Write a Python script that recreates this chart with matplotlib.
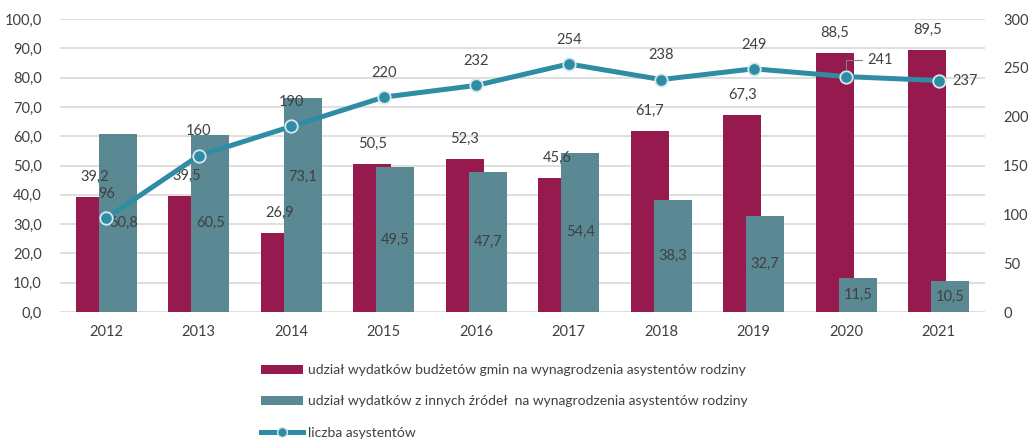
import matplotlib
matplotlib.use("Agg")
import matplotlib.pyplot as plt
from matplotlib.lines import Line2D
from matplotlib.patches import Patch
import numpy as np

years = ["2012", "2013", "2014", "2015", "2016", "2017", "2018", "2019", "2020", "2021"]
gmin_share = [39.2, 39.5, 26.9, 50.5, 52.3, 45.6, 61.7, 67.3, 88.5, 89.5]
other_share = [60.8, 60.5, 73.1, 49.5, 47.7, 54.4, 38.3, 32.7, 11.5, 10.5]
assistants = [96, 160, 190, 220, 232, 254, 238, 249, 241, 237]

legend_labels = [
    "udział wydatków budżetów gmin na wynagrodzenia asystentów rodziny",
    "udział wydatków z innych źródeł  na wynagrodzenia asystentów rodziny",
    "liczba asystentów",
]

MAROON = "#961A4D"
TEAL = "#5A8993"
LINE = "#2F8CA5"
TXT = "#404040"
GRID = "#D9D9D9"

plt.rcParams["font.family"] = ["Lato", "DejaVu Sans"]

fig = plt.figure(figsize=(10.28, 4.48), dpi=100)
ax = fig.add_axes([60 / 1028, 1 - 312 / 448, 925 / 1028, 293 / 448])
ax2 = ax.twinx()

x = np.arange(len(years))
w = 0.41
off = 0.124

ax.bar(x - off, gmin_share, w, color=MAROON, zorder=2)
ax.bar(x + off, other_share, w, color=TEAL, zorder=3)

ax.set_xlim(-0.5, len(years) - 0.5)
ax.set_ylim(0, 100)
ax.set_yticks(np.arange(0, 101, 10))
ax.set_yticklabels([f"{v:.1f}".replace(".", ",") for v in np.arange(0, 101, 10)])
ax.set_xticks(x)
ax.set_xticklabels(years)
ax.grid(axis="y", color=GRID, linewidth=1.2, zorder=0)
ax.set_axisbelow(True)
for s in ax.spines.values():
    s.set_visible(False)
for s in ax2.spines.values():
    s.set_visible(False)
ax.tick_params(axis="both", length=0, labelsize=10.5, labelcolor=TXT, pad=9)
ax.tick_params(axis="y", pad=13)

ax2.set_ylim(0, 300)
ax2.set_yticks(np.arange(0, 301, 50))
ax2.tick_params(axis="y", length=0, labelsize=10.5, labelcolor=TXT, pad=13)

ax2.plot(x, assistants, color=LINE, linewidth=3.6, marker="o", markersize=9,
         markerfacecolor=LINE, markeredgecolor="#D5E8EE", markeredgewidth=1.3,
         zorder=5, solid_capstyle="round")

fs = 10.5
for i in range(len(years)):
    ax.annotate(f"{gmin_share[i]:.1f}".replace(".", ","), (x[i] - off, gmin_share[i]),
                xytext=(0, 14.5), textcoords="offset points", ha="center", va="center",
                fontsize=fs, color=TXT, zorder=10)
    yv = other_share[i] / 2
    dx = 0
    if years[i] == "2014":
        yv = 46
    if years[i] == "2012":
        dx = 4
    ax.annotate(f"{other_share[i]:.1f}".replace(".", ","), (x[i] + off, yv),
                xytext=(dx, 0), textcoords="offset points",
                ha="center", va="center", fontsize=fs, color=TXT, zorder=10)

for i in range(len(years)):
    if years[i] == "2021":
        ax2.annotate(str(assistants[i]), (x[i], assistants[i]), xytext=(10, 0),
                     textcoords="offset points", ha="left", va="center",
                     fontsize=fs, color=TXT, zorder=10)
    elif years[i] == "2020":
        ax2.annotate(str(assistants[i]), (x[i], assistants[i]), xytext=(15, 12),
                     textcoords="offset points", ha="left", va="center",
                     fontsize=fs, color=TXT, zorder=10,
                     arrowprops=dict(arrowstyle="-", color="#808080", lw=0.8,
                                     connectionstyle="angle,angleA=0,angleB=90,rad=0",
                                     shrinkA=2, shrinkB=5))
    else:
        ax2.annotate(str(assistants[i]), (x[i], assistants[i]), xytext=(0, 17.5),
                     textcoords="offset points", ha="center", va="center",
                     fontsize=fs, color=TXT, zorder=10)

handles = [
    Patch(facecolor=MAROON, edgecolor="none"),
    Patch(facecolor=TEAL, edgecolor="none"),
    Line2D([0], [0], color=LINE, linewidth=3.6, marker="o", markersize=7,
           markerfacecolor=LINE, markeredgecolor="#D5E8EE"),
]
fig.legend(handles, legend_labels, loc="upper left", bbox_to_anchor=(261 / 1028, 1 - 364 / 448),
           frameon=False, fontsize=10, labelcolor=TXT, handlelength=3.0, handleheight=0.6,
           handletextpad=0.4, labelspacing=1.4, borderaxespad=0, borderpad=0)

fig.savefig("out.png", dpi=100)
